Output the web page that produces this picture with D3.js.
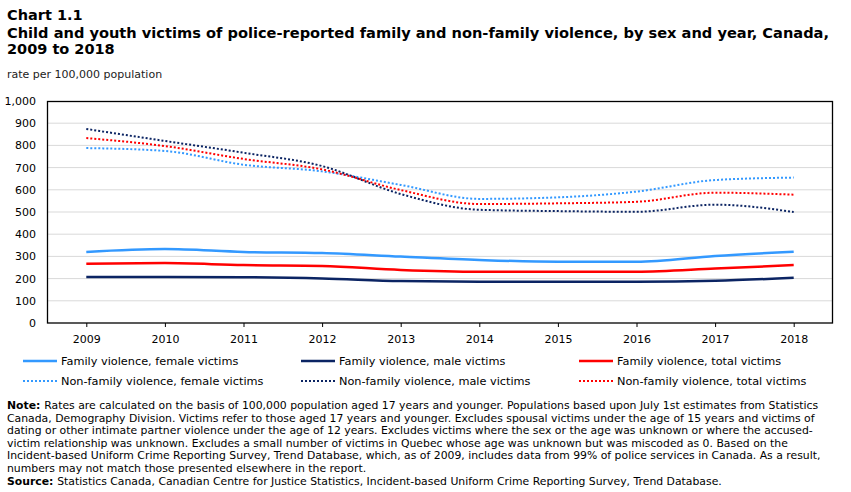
<!DOCTYPE html>
<html>
<head>
<meta charset="utf-8">
<script src="https://cdn.jsdelivr.net/npm/d3@7"></script>
<style>
  body { margin: 0; background: #fff; }
  svg { font-family: Verdana, "DejaVu Sans", sans-serif; }
</style>
</head>
<body>
<div id="chart"></div>
<script>
const years = [2009, 2010, 2011, 2012, 2013, 2014, 2015, 2016, 2017, 2018];
const yTicks = [0, 100, 200, 300, 400, 500, 600, 700, 800, 900, 1000];

const familyFemale = [320, 333, 320, 315, 299, 284, 276, 276, 302, 321];
const familyMale = [207, 207, 206, 201, 189, 186, 186, 186, 190, 204];
const familyTotal = [267, 270, 261, 257, 239, 231, 231, 231, 245, 261];
const nonFamilyFemale = [788, 775, 713, 683, 622, 559, 566, 592, 644, 655];
const nonFamilyMale = [874, 820, 767, 707, 581, 510, 504, 501, 533, 500];
const nonFamilyTotal = [833, 797, 739, 692, 599, 536, 539, 546, 587, 578];

const seriesNames = [
  'Family violence, female victims', 'Family violence, male victims', 'Family violence, total victims',
  'Non-family violence, female victims', 'Non-family violence, male victims', 'Non-family violence, total victims'
];

const noteLines = [
  'Rates are calculated on the basis of 100,000 population aged 17 years and younger. Populations based upon July 1st estimates from Statistics',
  'Canada, Demography Division. Victims refer to those aged 17 years and younger. Excludes spousal victims under the age of 15 years and victims of',
  'dating or other intimate partner violence under the age of 12 years. Excludes victims where the sex or the age was unknown or where the accused-',
  'victim relationship was unknown. Excludes a small number of victims in Quebec whose age was unknown but was miscoded as 0. Based on the',
  'Incident-based Uniform Crime Reporting Survey, Trend Database, which, as of 2009, includes data from 99% of police services in Canada. As a result,',
  'numbers may not match those presented elsewhere in the report.'
];
const sourceText = 'Statistics Canada, Canadian Centre for Justice Statistics, Incident-based Uniform Crime Reporting Survey, Trend Database.';

const lightBlue = '#3399ff', navy = '#0b2463', red = '#ff0000';
const series = [
  { name: seriesNames[0], values: familyFemale, color: lightBlue, dotted: false },
  { name: seriesNames[1], values: familyMale, color: navy, dotted: false },
  { name: seriesNames[2], values: familyTotal, color: red, dotted: false },
  { name: seriesNames[3], values: nonFamilyFemale, color: lightBlue, dotted: true },
  { name: seriesNames[4], values: nonFamilyMale, color: navy, dotted: true },
  { name: seriesNames[5], values: nonFamilyTotal, color: red, dotted: true }
];

const width = 851, height = 492;
const svg = d3.select('#chart').append('svg')
  .attr('width', width)
  .attr('height', height);

// titles
svg.append('text').attr('x', 7).attr('y', 20)
  .attr('font-size', '14.5px').attr('font-weight', 'bold').attr('fill', '#000')
  .text('Chart 1.1');
svg.append('text').attr('x', 7).attr('y', 38)
  .attr('font-size', '14.5px').attr('font-weight', 'bold').attr('fill', '#000')
  .attr('textLength', 822).attr('lengthAdjust', 'spacingAndGlyphs')
  .text('Child and youth victims of police-reported family and non-family violence, by sex and year, Canada,');
svg.append('text').attr('x', 7).attr('y', 54)
  .attr('font-size', '14.5px').attr('font-weight', 'bold').attr('fill', '#000')
  .text('2009 to 2018');
svg.append('text').attr('x', 7).attr('y', 78)
  .attr('font-size', '11px').attr('fill', '#222')
  .text('rate per 100,000 population');

const x = d3.scalePoint().domain(years).range([47, 833]).padding(0.5);
const y = d3.scaleLinear().domain([0, 1000]).range([323, 101]);

// gridlines
svg.append('g').selectAll('line')
  .data(yTicks.filter(d => d > 0 && d < 1000))
  .enter().append('line')
  .attr('x1', 47).attr('x2', 833)
  .attr('y1', d => y(d)).attr('y2', d => y(d))
  .attr('stroke', '#d9d9d9').attr('stroke-width', 1);

// y axis labels
svg.append('g').selectAll('text')
  .data(yTicks)
  .enter().append('text')
  .attr('x', 36).attr('y', d => y(d) + 4)
  .attr('text-anchor', 'end')
  .attr('font-size', '11px').attr('fill', '#000')
  .text(d => d3.format(',')(d));

// x axis
const xAxis = svg.append('g')
  .attr('transform', 'translate(0,323)')
  .call(d3.axisBottom(x).tickSize(4).tickPadding(8));
xAxis.select('.domain').remove();
xAxis.selectAll('line').attr('stroke', '#000');
xAxis.selectAll('text').attr('font-size', '11px').attr('fill', '#000')
  .attr('font-family', 'Verdana, "DejaVu Sans", sans-serif');

// frame
svg.append('rect')
  .attr('x', 47.5).attr('y', 101.5)
  .attr('width', 785).attr('height', 221.5)
  .attr('fill', 'none').attr('stroke', '#000').attr('stroke-width', 1.3);

const line = d3.line()
  .x((d, i) => x(years[i]))
  .y(d => y(d))
  .curve(d3.curveMonotoneX);

svg.append('g').selectAll('path')
  .data(series)
  .enter().append('path')
  .attr('d', d => line(d.values))
  .attr('fill', 'none')
  .attr('stroke', d => d.color)
  .attr('stroke-width', d => d.dotted ? 2 : 2.5)
  .attr('stroke-dasharray', d => d.dotted ? '2,2' : null);

// legend
const legendCols = [23, 301, 579];
const legend = svg.append('g');
const items = legend.selectAll('g')
  .data(series)
  .enter().append('g')
  .attr('transform', (d, i) => `translate(${legendCols[i % 3]},${i < 3 ? 361 : 381})`);
items.append('line')
  .attr('x1', 0).attr('x2', 34).attr('y1', 0).attr('y2', 0)
  .attr('stroke', d => d.color)
  .attr('stroke-width', d => d.dotted ? 2 : 2.5)
  .attr('stroke-dasharray', d => d.dotted ? '2,2' : null);
items.append('text')
  .attr('x', 38).attr('y', 4)
  .attr('font-size', '11.3px').attr('fill', '#000')
  .text(d => d.name);

// notes
const notes = svg.append('g').attr('font-size', '10.85px').attr('fill', '#000');
noteLines.forEach((t, i) => {
  const tx = notes.append('text').attr('x', 7).attr('y', 409 + i * 12.6);
  if (i === 0) tx.append('tspan').attr('font-weight', 'bold').text('Note: ');
  tx.append('tspan').text(t);
});
const src = notes.append('text').attr('x', 7).attr('y', 409 + 6 * 12.6);
src.append('tspan').attr('font-weight', 'bold').text('Source: ');
src.append('tspan').text(sourceText);
</script>
</body>
</html>
